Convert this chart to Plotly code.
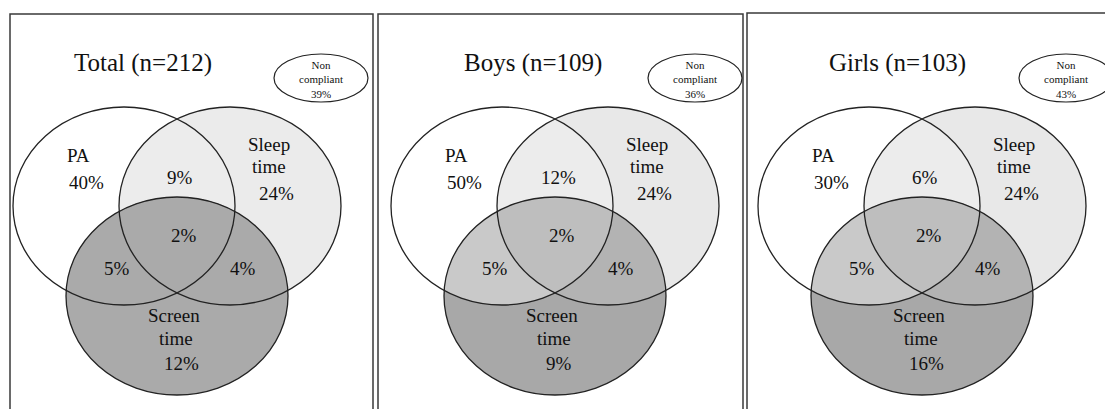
import numpy as np
import plotly.graph_objects as go

# ---------------- data ----------------
panel_titles = ["Total (n=212)", "Boys (n=109)", "Girls (n=103)"]
set_names = ["PA", "Sleep<br>time", "Screen<br>time"]
pa_only = [40, 50, 30]
sleep_only = [24, 24, 24]
screen_only = [12, 9, 16]
pa_sleep = [9, 12, 6]
pa_screen = [5, 5, 5]
sleep_screen = [4, 4, 4]
all_three = [2, 2, 2]
non_compliant = [39, 36, 43]

# ---------------- layout constants (pixels) ----------------
W, H = 1105, 409
panel_dx = [0, 378, 745]
frames = [(10, 373, 14), (378, 743, 14), (747, 1115, 13)]
title_x = [143, 533, 897]
title_y = 63
RX, RY = 111, 99
C_PA = (124, 206)
C_SL = (230, 206)
C_SC = (177, 296)
NC_C = [(321, 78), (695, 78), (1066, 78)]
NC_RX, NC_RY = 47, 24

FONT = "Liberation Serif"
TXT = "#111111"
LINE = "#222222"

# fills per panel: (sleep, pa&sleep, screen, pa&screen, sleep&screen, all)
fills = [
    ("#ebebeb", "#ececec", "#aaaaaa", "#aaaaaa", "#aaaaaa", "#aaaaaa"),
    ("#e8e8e8", "#ececec", "#a8a8a8", "#c9c9c9", "#b3b3b3", "#bebebe"),
    ("#e8e8e8", "#ececec", "#a8a8a8", "#c9c9c9", "#b3b3b3", "#bebebe"),
]


def ellipse_poly(cx, cy, rx, ry, n=240):
    t = np.linspace(0, 2 * np.pi, n, endpoint=False)
    return [(cx + rx * np.cos(a), cy + ry * np.sin(a)) for a in t]


def signed_area(p):
    s = 0.0
    for i in range(len(p)):
        x1, y1 = p[i]
        x2, y2 = p[(i + 1) % len(p)]
        s += x1 * y2 - x2 * y1
    return s / 2


def clip(subject, clipper):
    sgn = 1 if signed_area(clipper) > 0 else -1
    out = list(subject)
    n = len(clipper)
    for i in range(n):
        if not out:
            break
        ax, ay = clipper[i]
        bx, by = clipper[(i + 1) % n]

        def inside(p):
            return sgn * ((bx - ax) * (p[1] - ay) - (by - ay) * (p[0] - ax)) >= 0

        def inter(p, q):
            x1, y1 = p
            x2, y2 = q
            dx, dy = x2 - x1, y2 - y1
            ex, ey = bx - ax, by - ay
            den = dx * ey - dy * ex
            if abs(den) < 1e-12:
                return q
            t = ((ax - x1) * ey - (ay - y1) * ex) / den
            return (x1 + t * dx, y1 + t * dy)

        inp = out
        out = []
        for j in range(len(inp)):
            p = inp[j]
            q = inp[(j + 1) % len(inp)]
            if inside(q):
                if not inside(p):
                    out.append(inter(p, q))
                out.append(q)
            elif inside(p):
                out.append(inter(p, q))
    return out


def path(poly):
    return "M " + " L ".join(f"{x:.2f},{y:.2f}" for x, y in poly) + " Z"


shapes = []
annotations = []

for k in range(3):
    dx = panel_dx[k]
    pa = ellipse_poly(C_PA[0] + dx, C_PA[1], RX, RY)
    sl = ellipse_poly(C_SL[0] + dx, C_SL[1], RX, RY)
    sc = ellipse_poly(C_SC[0] + dx, C_SC[1], RX, RY)
    f_sl, f_ps, f_sc, f_pc, f_lc, f_all = fills[k]

    # frame
    fx0, fx1, fy = frames[k]
    shapes.append(dict(type="rect", xref="x", yref="y", x0=fx0, x1=fx1, y0=fy, y1=H + 20,
                       line=dict(color="#3a3a3a", width=1.5), fillcolor="rgba(0,0,0,0)", layer="above"))

    regions = [
        (pa, "#ffffff"),
        (sl, f_sl),
        (clip(pa, sl), f_ps),
        (sc, f_sc),
        (clip(pa, sc), f_pc),
        (clip(sl, sc), f_lc),
        (clip(clip(pa, sl), sc), f_all),
    ]
    for poly, col in regions:
        if len(poly) > 2:
            shapes.append(dict(type="path", xref="x", yref="y", path=path(poly),
                               fillcolor=col, line=dict(width=0), layer="below"))

    for (cx, cy) in (C_PA, C_SL, C_SC):
        shapes.append(dict(type="circle", xref="x", yref="y",
                           x0=cx + dx - RX, x1=cx + dx + RX, y0=cy - RY, y1=cy + RY,
                           line=dict(color=LINE, width=1.3), fillcolor="rgba(0,0,0,0)", layer="above"))

    # non compliant ellipse
    ncx, ncy = NC_C[k]
    shapes.append(dict(type="circle", xref="x", yref="y",
                       x0=ncx - NC_RX, x1=ncx + NC_RX, y0=ncy - NC_RY, y1=ncy + NC_RY,
                       line=dict(color=LINE, width=1.2), fillcolor="rgba(0,0,0,0)", layer="above"))
    annotations.append(dict(x=ncx, y=ncy + 1, xref="x", yref="y", showarrow=False,
                            text=f"Non<br>compliant<br>{non_compliant[k]}%",
                            font=dict(family=FONT, size=11, color=TXT), align="center"))

    # title
    annotations.append(dict(x=title_x[k], y=title_y, xref="x", yref="y", showarrow=False,
                            text=panel_titles[k], font=dict(family=FONT, size=25, color=TXT)))

    labels = [
        (78, 155, "PA"), (86, 182, f"{pa_only[k]}%"),
        (180, 177, f"{pa_sleep[k]}%"),
        (269, 144, "Sleep"), (269, 166, "time"), (276, 193, f"{sleep_only[k]}%"),
        (184, 235, f"{all_three[k]}%"),
        (117, 268, f"{pa_screen[k]}%"),
        (243, 268, f"{sleep_screen[k]}%"),
        (174, 315, "Screen"), (176, 338, "time"), (181, 363, f"{screen_only[k]}%"),
    ]
    for lx, ly, t in labels:
        annotations.append(dict(x=lx + dx, y=ly, xref="x", yref="y", showarrow=False,
                                text=t, font=dict(family=FONT, size=19, color=TXT)))

fig = go.Figure()
fig.add_trace(go.Scatter(x=[0, W], y=[0, H], mode="markers", marker=dict(opacity=0),
                         hoverinfo="skip", showlegend=False))
fig.update_layout(
    width=W, height=H,
    margin=dict(l=0, r=0, t=0, b=0),
    paper_bgcolor="white", plot_bgcolor="white",
    xaxis=dict(range=[0, W], visible=False, fixedrange=True),
    yaxis=dict(range=[H, 0], visible=False, fixedrange=True),
    shapes=shapes, annotations=annotations, showlegend=False,
)
fig.write_html("out.html", config={"displayModeBar": False},
               post_script="document.body.style.margin='0';document.body.style.overflow='hidden';")
